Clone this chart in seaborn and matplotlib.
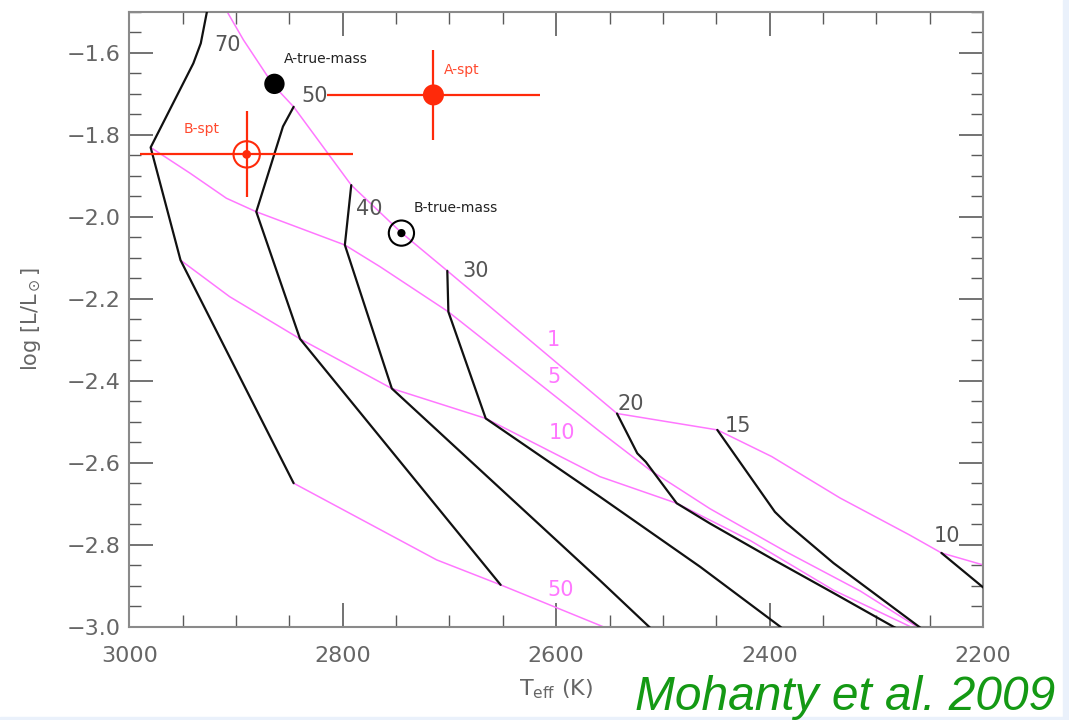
import numpy as np
import pandas as pd
import matplotlib
matplotlib.use("Agg")
import matplotlib.pyplot as plt
from matplotlib.ticker import MultipleLocator, FixedLocator
from matplotlib.patches import Rectangle
import seaborn as sns

# ---------------- data ----------------
# evolutionary mass tracks (M_Jup): Teff [K], log L/Lsun
track_labels = ["70", "50", "40", "30", "20", "15", "10"]
t70_teff = [2925, 2933, 2940, 2980, 2952, 2846]
t70_logl = [-1.47, -1.577, -1.626, -1.831, -2.106, -2.650]
t50_teff = [2846, 2856, 2881, 2840, 2652]
t50_logl = [-1.732, -1.780, -1.988, -2.298, -2.898]
t40_teff = [2792, 2798, 2754, 2559, 2513, 2490]
t40_logl = [-1.923, -2.069, -2.419, -2.887, -3.000, -3.056]
t30_teff = [2702, 2701, 2666, 2559, 2465, 2390, 2370]
t30_logl = [-2.132, -2.232, -2.492, -2.683, -2.854, -3.000, -3.045]
t20_teff = [2543, 2524, 2516, 2487, 2456, 2396, 2340, 2284, 2265]
t20_logl = [-2.480, -2.577, -2.598, -2.699, -2.748, -2.837, -2.918, -3.000, -3.025]
t15_teff = [2449, 2395, 2384, 2340, 2260, 2245]
t15_logl = [-2.520, -2.720, -2.748, -2.845, -3.000, -3.028]
t10_teff = [2239, 2199, 2190]
t10_logl = [-2.820, -2.906, -2.925]

# isochrones (Myr)
iso_labels = ["1", "5", "10", "50"]
i1_teff = [2915, 2893, 2865, 2846, 2792, 2745, 2702, 2543, 2449, 2398, 2334, 2269, 2239, 2199, 2190]
i1_logl = [-1.47, -1.569, -1.679, -1.732, -1.923, -2.039, -2.132, -2.480, -2.520,
           -2.585, -2.686, -2.776, -2.820, -2.850, -2.855]
i5_teff = [2980, 2943, 2909, 2881, 2798, 2765, 2701, 2559, 2512, 2456, 2384, 2315, 2262, 2245]
i5_logl = [-1.831, -1.894, -1.955, -1.988, -2.069, -2.122, -2.232, -2.524, -2.618,
           -2.712, -2.818, -2.913, -3.000, -3.025]
i10_teff = [2952, 2906, 2840, 2754, 2666, 2559, 2487, 2418, 2340, 2268, 2250]
i10_logl = [-2.106, -2.195, -2.298, -2.419, -2.492, -2.634, -2.699, -2.790, -2.911, -3.000, -3.022]
i50_teff = [2846, 2712, 2652, 2556, 2530]
i50_logl = [-2.650, -2.837, -2.898, -3.000, -3.030]

# objects
true_names = ["A-true-mass", "B-true-mass"]
true_teff = [2864, 2745]
true_logl = [-1.676, -2.040]
spt_names = ["A-spt", "B-spt"]
spt_teff = [2715, 2890]
spt_logl = [-1.703, -1.848]
spt_teff_err = [100, 100]
spt_logl_err = [0.11, 0.105]

# ---------------- styling ----------------
sns.set_style("ticks")
plt.rcParams["font.family"] = ["DejaVu Sans"]
plt.rcParams["mathtext.fontset"] = "dejavusans"

BLACK = "#111111"
MAG = "#ff77ff"
RED = "#ff2a0a"
GRAY = "#5a5a5a"
TXT = "#666666"

fig = plt.figure(figsize=(10.69, 7.2), dpi=100)
fig.patch.set_facecolor("white")
# slide background strips
fig.patches.append(Rectangle((1063 / 1069, 0), 6 / 1069, 1, transform=fig.transFigure,
                             color="#eaf1fb", zorder=0))
fig.patches.append(Rectangle((0, 0), 1, 3 / 720, transform=fig.transFigure,
                             color="#eaf1fb", zorder=0))

ax = fig.add_axes([129.3 / 1069, 1 - 626.7 / 720, (983 - 129.3) / 1069, (626.7 - 11.7) / 720])

tracks = [(t70_teff, t70_logl), (t50_teff, t50_logl), (t40_teff, t40_logl),
          (t30_teff, t30_logl), (t20_teff, t20_logl), (t15_teff, t15_logl),
          (t10_teff, t10_logl)]
isos = [(i1_teff, i1_logl), (i5_teff, i5_logl), (i10_teff, i10_logl), (i50_teff, i50_logl)]

for (tx, ty) in isos:
    sns.lineplot(x=tx, y=ty, sort=False, estimator=None, color=MAG, lw=1.1, ax=ax, zorder=2)
for (tx, ty) in tracks:
    sns.lineplot(x=tx, y=ty, sort=False, estimator=None, color=BLACK, lw=1.6, ax=ax, zorder=3)

# spectral-type points with error bars
ax.errorbar(spt_teff, spt_logl, xerr=spt_teff_err, yerr=spt_logl_err, fmt="none",
            ecolor=RED, elinewidth=1.6, capsize=0, zorder=4)
sns.scatterplot(x=[spt_teff[0]], y=[spt_logl[0]], color=RED, s=230, edgecolor="none",
                ax=ax, zorder=5)
sns.scatterplot(x=[spt_teff[1]], y=[spt_logl[1]], facecolor="none", edgecolor=RED,
                linewidth=1.5, s=360, ax=ax, zorder=5)
sns.scatterplot(x=[spt_teff[1]], y=[spt_logl[1]], color=RED, s=40, edgecolor="none",
                ax=ax, zorder=6)

# true-mass points
sns.scatterplot(x=[true_teff[0]], y=[true_logl[0]], color="black", s=215, edgecolor="none",
                ax=ax, zorder=5)
sns.scatterplot(x=[true_teff[1]], y=[true_logl[1]], facecolor="none", edgecolor="black",
                linewidth=1.5, s=330, ax=ax, zorder=5)
sns.scatterplot(x=[true_teff[1]], y=[true_logl[1]], color="black", s=35, edgecolor="none",
                ax=ax, zorder=6)

# track labels
track_label_pos = [(2908, -1.581), (2826, -1.706), (2775, -1.982), (2675, -2.132),
                   (2530, -2.457), (2430, -2.510), (2234, -2.780)]
for lab, (px, py) in zip(track_labels, track_label_pos):
    ax.text(px, py, lab, color="#555555", fontsize=15, ha="center", va="center", zorder=7)

iso_label_pos = [(2603, -2.301), (2602, -2.390), (2595, -2.528), (2596, -2.911)]
for lab, (px, py) in zip(iso_labels, iso_label_pos):
    ax.text(px, py, lab, color=MAG, fontsize=15, ha="center", va="center", zorder=7)

ax.text(2855, -1.616, true_names[0], color="#222222", fontsize=10, ha="left", va="center")
ax.text(2734, -1.980, true_names[1], color="#222222", fontsize=10, ha="left", va="center")
ax.text(2705, -1.642, spt_names[0], color=RED, fontsize=10, ha="left", va="center", alpha=0.85)
ax.text(2949, -1.787, spt_names[1], color=RED, fontsize=10, ha="left", va="center", alpha=0.85)

# axes
ax.set_xlim(3000, 2200)
ax.set_ylim(-3.0, -1.5)
ax.xaxis.set_major_locator(FixedLocator([3000, 2800, 2600, 2400, 2200]))
ax.xaxis.set_minor_locator(MultipleLocator(50))
ax.yaxis.set_major_locator(FixedLocator([-3.0, -2.8, -2.6, -2.4, -2.2, -2.0, -1.8, -1.6]))
ax.yaxis.set_minor_locator(MultipleLocator(0.05))
ax.tick_params(which="both", direction="in", top=True, right=True, color=GRAY,
               labelcolor=TXT, labelsize=16)
ax.tick_params(which="major", length=17, width=1.2)
ax.tick_params(which="minor", length=8.5, width=1.0)
ax.tick_params(axis="x", which="both", pad=14)
ax.tick_params(axis="y", which="both", pad=6)
ax.tick_params(axis="x", which="both", labeltop=False)
ax.tick_params(axis="y", which="both", labelright=False)
for s in ax.spines.values():
    s.set_color("#8a8a8a")
    s.set_linewidth(1.5)
    s.set_visible(True)

ax.set_xlabel(r"T$_{\rm eff}$ (K)", fontsize=16, color=TXT, labelpad=8)
ax.set_ylabel(r"log [L/L$_\odot$]", fontsize=15, color=TXT, labelpad=17)

fig.text(1055 / 1069, 1 - 698 / 720, "Mohanty et al. 2009", color="#149914",
         fontsize=34.5, fontstyle="italic", family=["Liberation Sans", "DejaVu Sans"],
         ha="right", va="center")

fig.savefig("out.png", dpi=100)
